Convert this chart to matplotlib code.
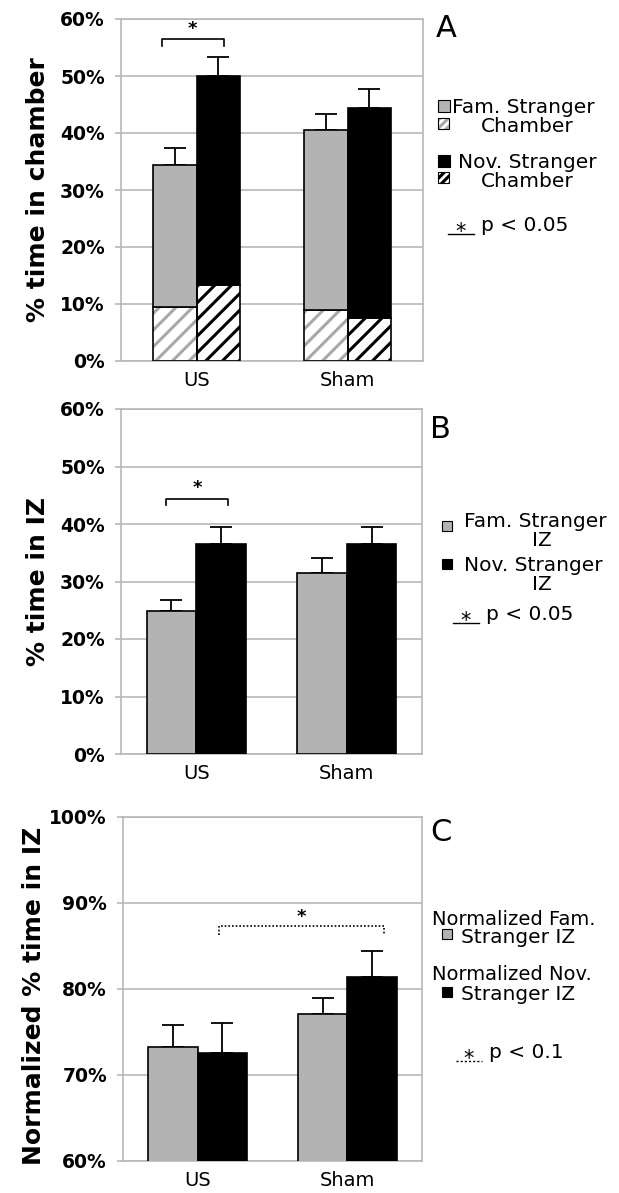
import matplotlib
matplotlib.use("Agg")
import matplotlib.pyplot as plt
from matplotlib.patches import Rectangle
from matplotlib.lines import Line2D
from matplotlib.ticker import PercentFormatter

# data (percent)
groups = ["US", "Sham"]

a_fam_total = [34.3, 40.6]
a_nov_total = [50.0, 44.4]
a_fam_hatch = [9.4, 9.0]
a_nov_hatch = [13.3, 7.6]
a_fam_err = [3.0, 2.7]
a_nov_err = [3.3, 3.3]

b_fam = [24.8, 31.4]
b_nov = [36.5, 36.5]
b_fam_err = [2.0, 2.7]
b_nov_err = [3.0, 3.0]

c_fam = [73.2, 77.1]
c_nov = [72.5, 81.4]
c_fam_err = [2.6, 1.8]
c_nov_err = [3.5, 3.0]

W, H = 619, 1193
GRAY = "#b3b3b3"
AXGRAY = "#b8b8b8"

plt.rcParams["font.family"] = ["DejaVu Sans"]
plt.rcParams["hatch.linewidth"] = 2.2

fig = plt.figure(figsize=(W / 100, H / 100), dpi=100)


def fx(x):
    return x / W


def fy(y):
    return 1 - y / H


def make_axes(left, right, top, bottom):
    return fig.add_axes([fx(left), fy(bottom), (right - left) / W, (bottom - top) / H])


def style_axes(ax, ylim, step, label, label_x, label_y=0.5):
    ax.set_xlim(-0.5, 1.5)
    ax.set_ylim(*ylim)
    ax.set_yticks(range(ylim[0], ylim[1] + 1, step))
    ax.yaxis.set_major_formatter(PercentFormatter(decimals=0))
    ax.set_xticks(range(len(groups)))
    ax.set_xticklabels(groups, fontsize=14)
    ax.tick_params(axis="x", length=0, pad=7)
    ax.tick_params(axis="y", length=4.5, width=1.2, color=AXGRAY, pad=7, labelsize=13.5)
    for t in ax.get_yticklabels():
        t.set_fontweight("bold")
    for s in ax.spines.values():
        s.set_color(AXGRAY)
        s.set_linewidth(1.2)
    ax.yaxis.grid(True, color=AXGRAY, lw=1.2)
    ax.set_axisbelow(True)
    ax.set_ylabel(label, fontsize=18, fontweight="bold")
    ax.yaxis.set_label_coords(label_x, label_y)


def errbars(ax, x, y, err):
    ax.errorbar(x, y, yerr=[[0] * len(err), err], fmt="none", ecolor="black",
                elinewidth=1.3, capsize=8, capthick=1.3, zorder=1)


def bracket(ax, x0, x1, y, tip, star_y, dotted=False):
    ls = (0, (1, 1.2)) if dotted else "-"
    ax.plot([x0, x0, x1, x1], [y - tip, y, y, y - tip], color="black", lw=1.2, ls=ls)
    ax.text((x0 + x1) / 2, star_y, "*", ha="center", va="center", fontsize=13, fontweight="bold")


xs = list(range(len(groups)))

# ---------------- panel A ----------------
axA = make_axes(121, 423, 19, 361)
wa = 0.285
xa_f = [x - wa / 2 for x in xs]
xa_n = [x + wa / 2 for x in xs]
axA.bar(xa_f, a_fam_hatch, wa, color="white", edgecolor="#a8a8a8", hatch="//", lw=0, zorder=2)
axA.bar(xa_f, a_fam_hatch, wa, fill=False, edgecolor="black", lw=1.2, zorder=3)
axA.bar(xa_f, [t - h for t, h in zip(a_fam_total, a_fam_hatch)], wa, bottom=a_fam_hatch,
        color=GRAY, edgecolor="black", lw=1.2, zorder=3)
axA.bar(xa_n, a_nov_hatch, wa, color="white", edgecolor="black", hatch="//", lw=0, zorder=2)
axA.bar(xa_n, a_nov_hatch, wa, fill=False, edgecolor="black", lw=1.2, zorder=3)
axA.bar(xa_n, [t - h for t, h in zip(a_nov_total, a_nov_hatch)], wa, bottom=a_nov_hatch,
        color="black", edgecolor="black", lw=1.2, zorder=3)
errbars(axA, xa_f, a_fam_total, a_fam_err)
errbars(axA, xa_n, a_nov_total, a_nov_err)
style_axes(axA, (0, 60), 10, "% time in chamber", -0.235)
bracket(axA, -0.23, 0.18, 56.5, 1.2, 58.2)

# ---------------- panel B ----------------
axB = make_axes(121, 422, 409, 754)
wb = 0.33
xb_f = [x - wb / 2 for x in xs]
xb_n = [x + wb / 2 for x in xs]
axB.bar(xb_f, b_fam, wb, color=GRAY, edgecolor="black", lw=1.2, zorder=3)
axB.bar(xb_n, b_nov, wb, color="black", edgecolor="black", lw=1.2, zorder=3)
errbars(axB, xb_f, b_fam, b_fam_err)
errbars(axB, xb_n, b_nov, b_nov_err)
style_axes(axB, (0, 60), 10, "% time in IZ", -0.235)
bracket(axB, -0.2, 0.21, 44.4, 1.1, 46.3)

# ---------------- panel C ----------------
axC = make_axes(123, 422, 817, 1161)
xc_f = [x - wb / 2 for x in xs]
xc_n = [x + wb / 2 for x in xs]
axC.bar(xc_f, c_fam, wb, color=GRAY, edgecolor="black", lw=1.2, zorder=3)
axC.bar(xc_n, c_nov, wb, color="black", edgecolor="black", lw=1.2, zorder=3)
errbars(axC, xc_f, c_fam, c_fam_err)
errbars(axC, xc_n, c_nov, c_nov_err)
style_axes(axC, (60, 100), 10, "Normalized % time in IZ", -0.257, 0.48)
bracket(axC, xc_n[0] - 0.02, xc_n[1] + 0.08, 87.3, 1.0, 88.4, dotted=True)


# ---------------- legends / labels ----------------
def txt(x, y, s, size=14.5, **kw):
    fig.text(fx(x), fy(y), s, fontsize=size, va="baseline", **kw)


def box(x0, y0, x1, y1, color, hatch=None, hcolor="black"):
    if hatch:
        fig.add_artist(Rectangle((fx(x0), fy(y1)), (x1 - x0) / W, (y1 - y0) / H,
                                 transform=fig.transFigure, facecolor="white",
                                 edgecolor=hcolor, hatch=hatch, lw=0))
        fig.add_artist(Rectangle((fx(x0), fy(y1)), (x1 - x0) / W, (y1 - y0) / H,
                                 transform=fig.transFigure, fill=False,
                                 edgecolor="black", lw=0.8))
    else:
        fig.add_artist(Rectangle((fx(x0), fy(y1)), (x1 - x0) / W, (y1 - y0) / H,
                                 transform=fig.transFigure, facecolor=color,
                                 edgecolor="black", lw=0.8))


def sig_key(x, y, label, dotted=False):
    ls = (0, (1.5, 1.5)) if dotted else "-"
    fig.add_artist(Line2D([fx(x), fx(x + 26)], [fy(y + 3), fy(y + 3)],
                          transform=fig.transFigure, color="black", lw=1.0, ls=ls))
    txt(x + 13, y + 7, "*", size=15, ha="center")
    txt(x + 33, y, label)


# A
txt(436, 37, "A", size=22)
box(438, 100, 450, 112, GRAY)
txt(452, 113, "Fam. Stranger")
box(438, 118, 449, 129, None, hatch="////", hcolor="#a8a8a8")
txt(481, 132, "Chamber")
box(438, 155, 450, 167, "black")
txt(458, 168, "Nov. Stranger")
box(438, 172, 449, 183, None, hatch="////", hcolor="black")
txt(481, 187, "Chamber")
sig_key(448, 231, "p < 0.05")

# B
txt(430, 438, "B", size=22)
box(442, 521, 452, 531, GRAY)
txt(464, 527, "Fam. Stranger")
txt(532, 546, "IZ")
box(442, 559, 452, 569, "black")
txt(464, 571, "Nov. Stranger")
txt(532, 590, "IZ")
sig_key(453, 620, "p < 0.05")

# C
txt(430, 841, "C", size=22)
txt(432, 925, "Normalized Fam.", size=14)
box(442, 929, 452, 939, GRAY)
txt(461, 943, "Stranger IZ")
txt(432, 980, "Normalized Nov.", size=14)
box(442, 987, 452, 997, "black")
txt(461, 1000, "Stranger IZ")
sig_key(456, 1058, "p < 0.1", dotted=True)

fig.savefig("out.png", dpi=100)
